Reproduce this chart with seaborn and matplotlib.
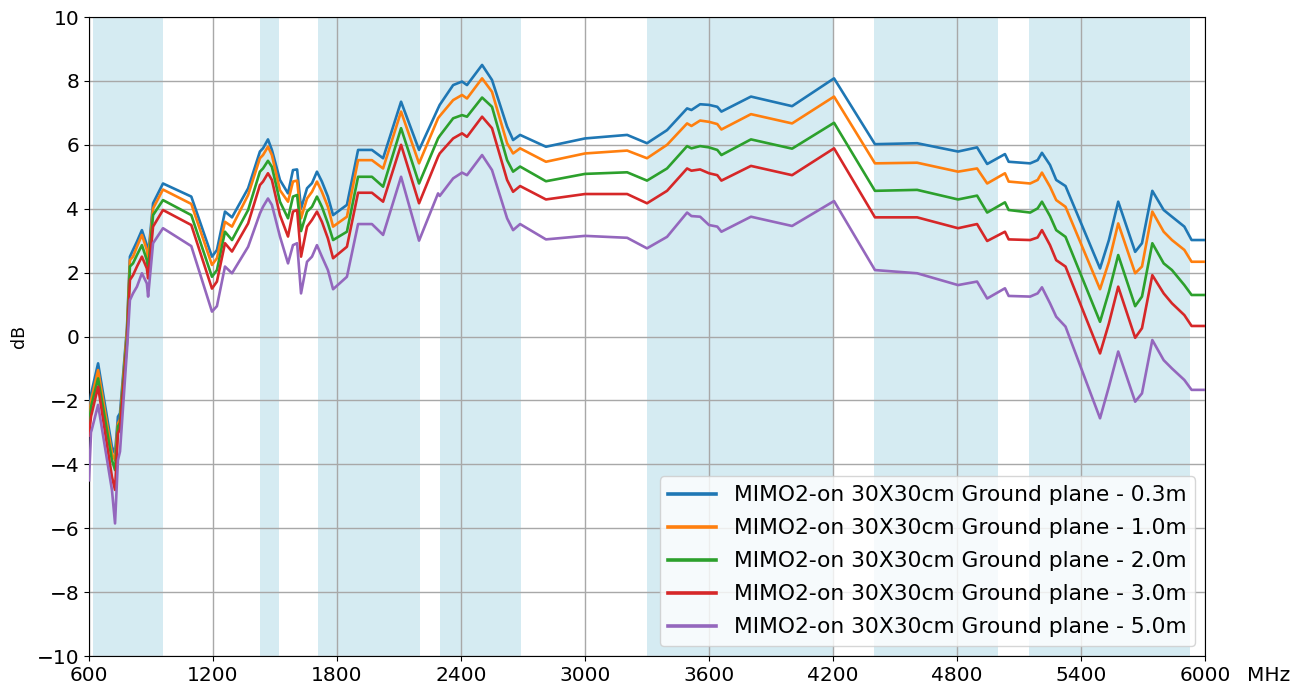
import pandas as pd
import numpy as np
import matplotlib
matplotlib.use('Agg')
import matplotlib.pyplot as plt
import seaborn as sns

# =============================================================================
# DONNÉES
# =============================================================================
freq_mhz = [600, 610, 644, 711, 726, 740, 750, 784, 798, 813, 832, 856, 880, 886,
            910, 958, 1095, 1195, 1219, 1258, 1292, 1370, 1427, 1442, 1466, 1485,
            1524, 1563, 1587, 1607, 1626, 1655, 1679, 1703, 1727, 1756, 1781, 1848,
            1902, 1969, 2023, 2110, 2197, 2289, 2297, 2362, 2405, 2429, 2502, 2550,
            2623, 2652, 2686, 2811, 3000, 3204, 3300, 3397, 3494, 3515, 3557, 3600,
            3640, 3660, 3803, 4002, 4205, 4403, 4607, 4805, 4897, 4946, 5032, 5050,
            5154, 5190, 5211, 5250, 5280, 5325, 5492, 5535, 5580, 5662, 5695, 5745,
            5800, 5840, 5900, 5935, 6000]

gain_03m = [-2.4, -1.8, -0.84, -3.45, -3.66, -2.51, -2.4, 0.3, 2.5, 2.71, 2.97, 3.33, 2.86, 2.5,
            4.17, 4.79, 4.38, 2.5, 2.71, 3.91, 3.73, 4.64, 5.79, 5.89, 6.17, 5.84,
            4.9, 4.48, 5.21, 5.23, 4.0, 4.64, 4.8, 5.16, 4.85, 4.38, 3.8, 4.12,
            5.84, 5.84, 5.58, 7.35, 5.84, 7.14, 7.25, 7.87, 7.98, 7.87, 8.5, 8.03,
            6.57, 6.15, 6.31, 5.94, 6.2, 6.31, 6.05, 6.46, 7.14, 7.09, 7.27, 7.25,
            7.19, 7.04, 7.51, 7.21, 8.08, 6.02, 6.05, 5.79, 5.92, 5.4, 5.71, 5.47,
            5.42, 5.52, 5.75, 5.37, 4.9, 4.71, 2.13, 3.02, 4.22, 2.65, 2.92, 4.56,
            3.96, 3.75, 3.44, 3.02, 3.02]

gain_10m = [-2.6, -2.0, -1.05, -3.66, -3.87, -2.72, -2.6, 0.2, 2.39, 2.5, 2.81, 3.18, 2.71, 2.39,
            4.01, 4.6, 4.15, 2.24, 2.45, 3.59, 3.44, 4.43, 5.58, 5.68, 5.94, 5.68,
            4.58, 4.22, 4.85, 4.88, 3.7, 4.32, 4.53, 4.85, 4.53, 4.06, 3.44, 3.75,
            5.52, 5.52, 5.26, 7.04, 5.42, 6.83, 6.9, 7.4, 7.56, 7.45, 8.08, 7.66,
            6.05, 5.73, 5.89, 5.47, 5.73, 5.82, 5.58, 6.0, 6.67, 6.59, 6.76, 6.72,
            6.65, 6.48, 6.96, 6.67, 7.51, 5.42, 5.44, 5.16, 5.26, 4.79, 5.11, 4.85,
            4.79, 4.9, 5.13, 4.69, 4.27, 4.06, 1.48, 2.34, 3.54, 1.98, 2.19, 3.91,
            3.28, 3.02, 2.71, 2.34, 2.34]

gain_20m = [-2.8, -2.2, -1.31, -3.87, -4.18, -2.82, -2.7, 0.0, 2.19, 2.29, 2.55, 2.86, 2.39, 2.08,
            3.8, 4.27, 3.8, 1.87, 2.08, 3.28, 3.02, 3.96, 5.16, 5.26, 5.5, 5.31,
            4.22, 3.7, 4.38, 4.43, 3.3, 3.91, 4.06, 4.38, 4.06, 3.54, 3.02, 3.28,
            5.0, 5.0, 4.69, 6.52, 4.79, 6.2, 6.28, 6.83, 6.93, 6.88, 7.48, 7.19,
            5.52, 5.16, 5.32, 4.86, 5.09, 5.14, 4.88, 5.26, 5.96, 5.89, 5.96, 5.92,
            5.84, 5.68, 6.17, 5.88, 6.69, 4.56, 4.59, 4.29, 4.41, 3.88, 4.2, 3.96,
            3.88, 4.01, 4.22, 3.77, 3.33, 3.12, 0.46, 1.4, 2.55, 0.95, 1.25, 2.92,
            2.29, 2.08, 1.61, 1.3, 1.3]

gain_30m = [-3.1, -2.5, -1.57, -4.39, -4.8, -3.03, -2.9, -0.2, 1.77, 1.92, 2.19, 2.5, 2.13, 1.82,
            3.44, 3.96, 3.49, 1.5, 1.72, 2.92, 2.66, 3.54, 4.74, 4.85, 5.11, 4.9,
            3.8, 3.13, 3.91, 3.96, 2.5, 3.44, 3.65, 3.91, 3.59, 3.07, 2.45, 2.81,
            4.5, 4.5, 4.22, 6.0, 4.17, 5.63, 5.73, 6.2, 6.36, 6.25, 6.88, 6.52,
            4.9, 4.53, 4.71, 4.29, 4.46, 4.46, 4.17, 4.56, 5.26, 5.19, 5.23, 5.11,
            5.05, 4.88, 5.34, 5.05, 5.89, 3.73, 3.73, 3.39, 3.52, 2.99, 3.28, 3.04,
            3.02, 3.1, 3.33, 2.86, 2.39, 2.19, -0.53, 0.41, 1.56, -0.04, 0.26, 1.92,
            1.35, 1.04, 0.67, 0.33, 0.33]

gain_50m = [-4.5, -3.0, -2.14, -4.8, -5.85, -3.87, -3.6, -0.4, 1.14, 1.35, 1.56, 1.98, 1.66, 1.25,
            2.92, 3.39, 2.83, 0.78, 0.95, 2.19, 1.98, 2.81, 3.85, 4.06, 4.32, 4.12,
            3.13, 2.29, 2.86, 2.92, 1.35, 2.34, 2.5, 2.86, 2.5, 2.08, 1.48, 1.87,
            3.52, 3.52, 3.18, 5.0, 3.0, 4.48, 4.4, 4.95, 5.13, 5.05, 5.68, 5.21,
            3.7, 3.33, 3.52, 3.04, 3.15, 3.09, 2.76, 3.12, 3.88, 3.77, 3.75, 3.49,
            3.44, 3.28, 3.75, 3.46, 4.24, 2.08, 1.98, 1.61, 1.72, 1.19, 1.51, 1.27,
            1.25, 1.35, 1.54, 1.04, 0.62, 0.31, -2.56, -1.57, -0.47, -2.04, -1.78, -0.11,
            -0.74, -1.0, -1.36, -1.67, -1.67]

distances = ['0.3m', '1.0m', '2.0m', '3.0m', '5.0m']
series = [gain_03m, gain_10m, gain_20m, gain_30m, gain_50m]

# bandes de fréquences surlignées (MHz)
band_start = [617, 1427, 1710, 2300, 3300, 4400, 5150]
band_end = [960, 1518, 2200, 2690, 4200, 5000, 5925]

x_ticks = [600, 1200, 1800, 2400, 3000, 3600, 4200, 4800, 5400, 6000]
x_ticklabels = ['600', '1200', '1800', '2400', '3000', '3600', '4200', '4800', '5400', '6000']
y_ticks = list(range(-10, 11, 2))

# format long pour seaborn
frames = []
for dist, vals in zip(distances, series):
    frames.append(pd.DataFrame({
        'Freq': freq_mhz,
        'dB': vals,
        'Courbe': f'MIMO2-on 30X30cm Ground plane - {dist}',
    }))
data = pd.concat(frames, ignore_index=True)

# =============================================================================
# FIGURE
# =============================================================================
fig = plt.figure(figsize=(13.03, 6.92), dpi=100)
ax = fig.add_axes([0.0683, 0.052, 0.8565, 0.9234])

for a, b in zip(band_start, band_end):
    ax.axvspan(a, b, color='lightblue', alpha=0.5, lw=0, zorder=0)

sns.lineplot(data=data, x='Freq', y='dB', hue='Courbe', palette='tab10',
             linewidth=1.9, ax=ax, sort=False, zorder=3)

ax.set_xlim(600, 6000)
ax.set_ylim(-10, 10)
ax.set_xticks(x_ticks)
ax.set_xticklabels(x_ticklabels)
ax.set_yticks(y_ticks)
ax.tick_params(labelsize=14.5)
ax.grid(True, color='#a8a8a8', linewidth=1.0, zorder=1)
ax.set_axisbelow(True)
ax.set_xlabel('')
ax.set_ylabel('dB', fontsize=12.5)
ax.yaxis.set_label_coords(-0.055, 0.5)

ax.annotate('MHz', xy=(1, 0), xycoords='axes fraction', xytext=(30, -7),
            textcoords='offset points', ha='left', va='top', fontsize=14.5)

leg = ax.legend(loc='lower right', fontsize=15.7, handlelength=2.2,
                labelspacing=0.6, borderaxespad=0.45)
for line in leg.get_lines():
    line.set_linewidth(2.6)

fig.savefig('out.png', dpi=100)
